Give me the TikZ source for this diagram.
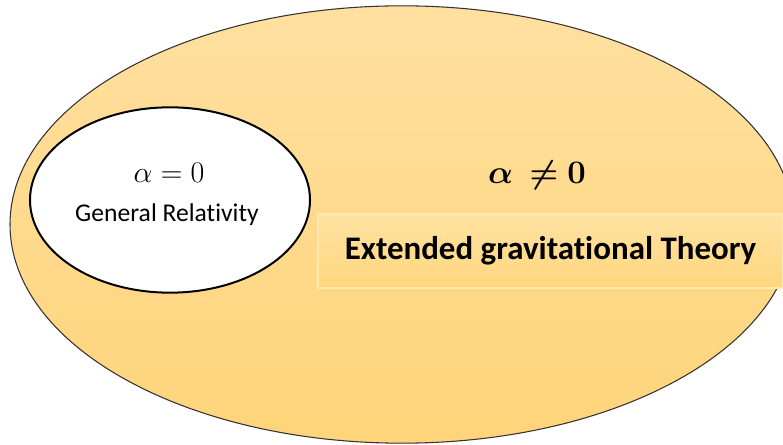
\documentclass[tikz,border=0pt]{standalone}
\usepackage{fix-cm}
\usepackage{amsmath}
\usepackage{amssymb}
\usepackage{bm}
\usepackage[no-math]{fontspec}
\setmainfont[Ligatures=NoCommon]{Carlito}
\usepackage{tikz}
\usetikzlibrary{shapes,positioning}
\usepackage{xcolor}
\definecolor{fieldtop}{RGB}{255,224,160}
\definecolor{fieldbottom}{RGB}{255,212,122}
\definecolor{bandtop}{RGB}{255,226,162}
\definecolor{bandbottom}{RGB}{255,214,126}
\definecolor{bandline}{RGB}{255,234,172}
\begin{document}
\begin{tikzpicture}[x=0.75pt,y=-0.75pt]
\useasboundingbox (0,0) rectangle (783,445);
\clip (0,0) rectangle (783,445);
\node[draw,ellipse,black!80,line width=0.8pt,top color=fieldtop,bottom color=fieldbottom,minimum width=588pt,minimum height=328pt,inner sep=0pt] (egt) at (402,224.5) {};
\node[draw,bandline,line width=0.8pt,top color=bandtop,bottom color=bandbottom,minimum width=348.75pt,minimum height=55.5pt,inner sep=0pt] (band) at (550.5,251) {};
\node[draw,ellipse,black,line width=1.5pt,fill=white,minimum width=210pt,minimum height=139pt,inner sep=0pt] (gr) at (170,200) {};
\node[font=\fontsize{22.5}{24}\selectfont] (grcond) at (169,173) {$\alpha = 0$};
\node[font=\fontsize{19.2}{21}\selectfont] (grname) at (167,215) {General Relativity};
\node[font=\fontsize{24.6}{27}\selectfont] (egtcond) at (537,175) {$\bm{\alpha}\ \bm{\neq}\bm{0}$};
\node[font=\bfseries\fontsize{24.7}{27}\selectfont] (egtname) at (band) {Extended gravitational Theory};
\end{tikzpicture}
\end{document}
